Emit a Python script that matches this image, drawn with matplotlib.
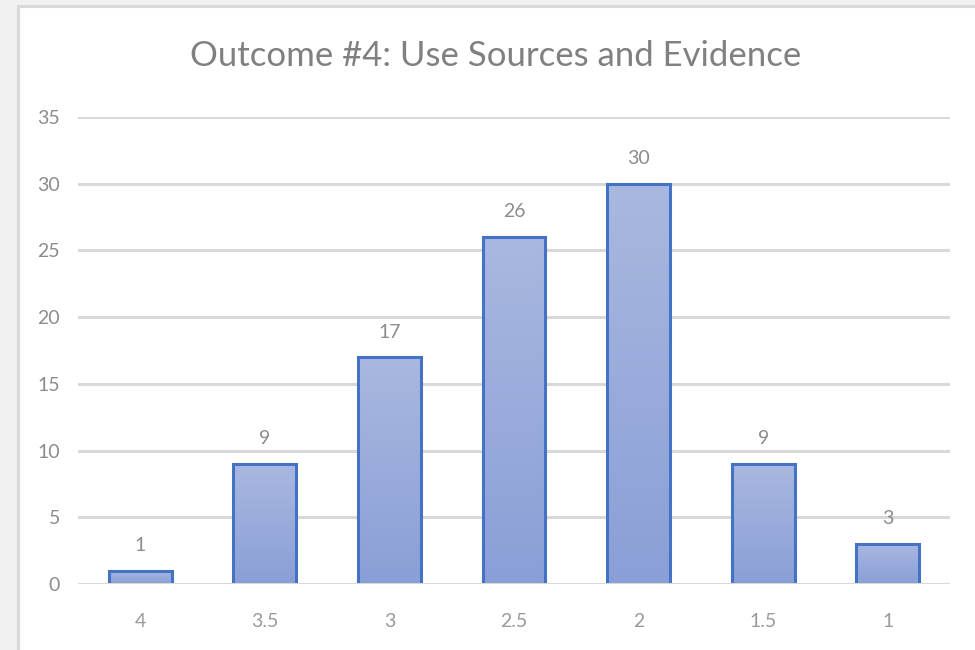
import matplotlib
matplotlib.use("Agg")
import matplotlib.pyplot as plt
import numpy as np
from matplotlib.colors import LinearSegmentedColormap
from matplotlib.patches import Rectangle

categories = ["4", "3.5", "3", "2.5", "2", "1.5", "1"]
values = [1, 9, 17, 26, 30, 9, 3]
title = "Outcome #4: Use Sources and Evidence"
yticks = [0, 5, 10, 15, 20, 25, 30, 35]

plt.rcParams['font.family'] = ['Lato', 'DejaVu Sans']

fig = plt.figure(figsize=(9.75, 6.5), dpi=100)
fig.patch.set_facecolor('#f0f0f0')
fig.patches.append(Rectangle((18/975, -0.05), 1.0, (650-6)/650 + 0.05,
                             transform=fig.transFigure, facecolor='white',
                             edgecolor='#d9d9d9', linewidth=2.2, zorder=-5))

ax = fig.add_axes([78/975, (650-584)/650, 872/975, (584-117)/650])
ax.set_zorder(2)
ax.set_facecolor('none')
x = np.arange(len(categories))
bars = ax.bar(x, values, width=0.505, facecolor='none', edgecolor='#4472c4',
              linewidth=2.2, zorder=3)

cmap = LinearSegmentedColormap.from_list('g', ['#8a9fd7', '#a9b8e0'])
grad = np.linspace(0, 1, 256).reshape(-1, 1)
for b in bars:
    x0, y0 = b.get_x(), b.get_y()
    w, h = b.get_width(), b.get_height()
    im = ax.imshow(grad, cmap=cmap, origin='lower', aspect='auto',
                   extent=[x0, x0 + w, y0, y0 + h], zorder=2)
    im.set_clip_path(b)

for xi, v in zip(x, values):
    ax.annotate(str(v), (xi, v), xytext=(0, 12), textcoords='offset points',
                ha='center', va='bottom', fontsize=14, color='#8c8c8c')

ax.set_xlim(-0.5, len(categories) - 0.5)
ax.set_ylim(0, 35)
ax.set_yticks(yticks)
ax.set_yticklabels([str(t) for t in yticks])
ax.set_xticks(x)
ax.set_xticklabels(categories)
ax.tick_params(axis='y', length=0, pad=13, labelsize=14, labelcolor='#8c8c8c')
ax.tick_params(axis='x', length=0, pad=21, labelsize=14, labelcolor='#9a9a9a')
ax.yaxis.grid(True, color='#d9d9d9', linewidth=2.2, zorder=1)
ax.set_axisbelow(True)
for s in ax.spines.values():
    s.set_visible(False)
ax.axhline(0, color='#d9d9d9', linewidth=2.2, zorder=4)

fig.text(496/975, 1 - 56/650, title, ha='center', va='center', fontsize=25,
         color='#808080')

fig.savefig('out.png', dpi=100, facecolor=fig.get_facecolor())
